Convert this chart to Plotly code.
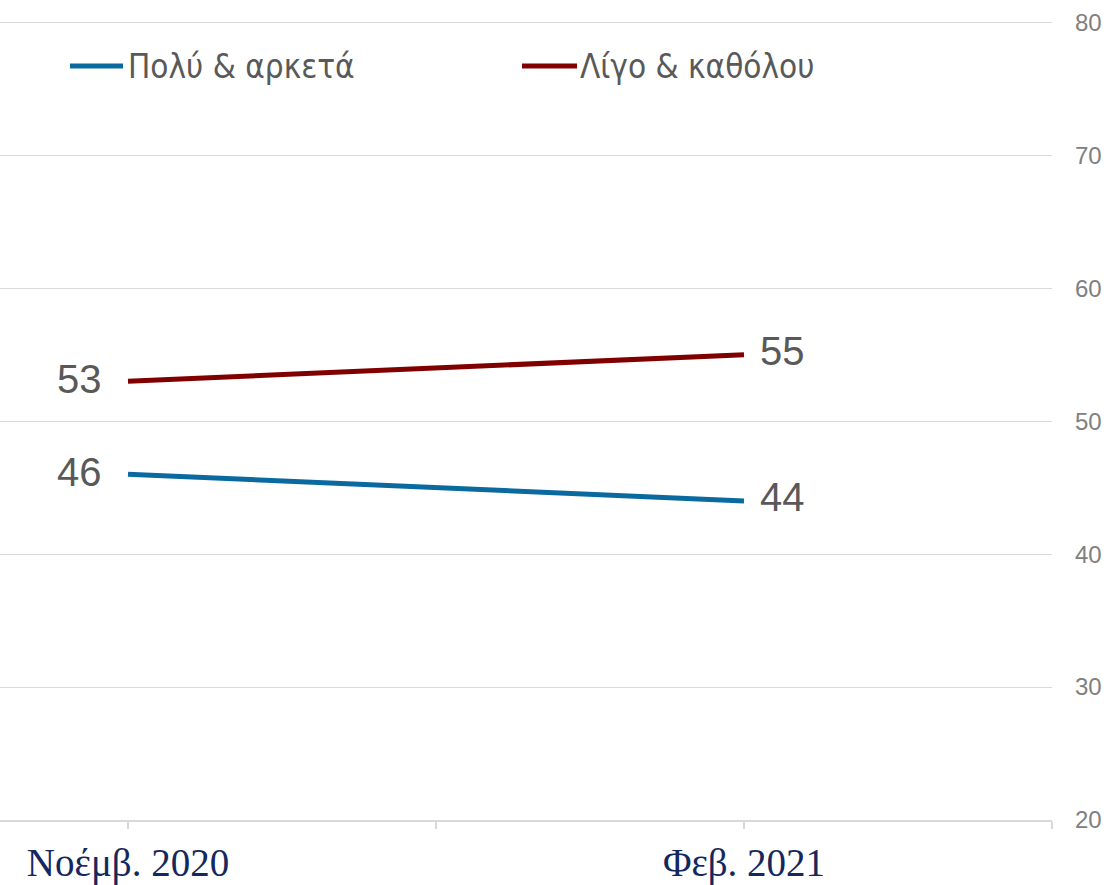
import plotly.graph_objects as go

categories = ["Νοέμβ. 2020", "Φεβ. 2021"]
series_names = ["Πολύ & αρκετά", "Λίγο & καθόλου"]
polu_arketa = [46, 44]
ligo_katholou = [53, 55]
colors = ["#0a6aa0", "#800000"]
y_ticks = [20, 30, 40, 50, 60, 70, 80]

# categories placed on a 4-slot axis (every other slot labelled)
x_pos = [0, 2]
tickvals = [0, 1, 2, 3]
ticktext = [categories[0], "", categories[1], ""]

fig = go.Figure()
for name, vals, col in [(series_names[0], polu_arketa, colors[0]),
                        (series_names[1], ligo_katholou, colors[1])]:
    fig.add_trace(go.Scatter(
        x=x_pos, y=vals, mode="lines", name=name,
        line=dict(color=col, width=5),
        showlegend=False, cliponaxis=False,
    ))
    # value labels: first point on the left, last point on the right
    fig.add_annotation(x=x_pos[0], y=vals[0], text=str(vals[0]), showarrow=False,
                       xanchor="right", yanchor="middle", xshift=-24, yshift=2,
                       font=dict(family="Liberation Sans, Arial, sans-serif", size=40, color="#595959"))
    fig.add_annotation(x=x_pos[1], y=vals[1], text=str(vals[1]), showarrow=False,
                       xanchor="left", yanchor="middle", xshift=14, yshift=4,
                       font=dict(family="Liberation Sans, Arial, sans-serif", size=40, color="#595959"))

# manual legend (paper coordinates)
W, H = 1112, 885
ml, mr, mt, mb = 0, 60, 21, 65
pw, ph = W - ml - mr, H - mt - mb

def px(x):
    return (x - ml) / pw

def py(y):
    return 1 - (y - mt) / ph

legend_items = [(70, 123, 126), (522, 577, 578)]
for (x0, x1, tx), name, col in zip(legend_items, series_names, colors):
    fig.add_shape(type="line", xref="paper", yref="paper",
                  x0=px(x0), x1=px(x1), y0=py(66), y1=py(66),
                  line=dict(color=col, width=5))
    fig.add_annotation(xref="paper", yref="paper", x=px(tx), y=py(67),
                       text=name, showarrow=False, xanchor="left", yanchor="middle",
                       font=dict(family="DejaVu Sans Condensed, Liberation Sans, sans-serif",
                                 size=33, color="#595959"))

fig.update_layout(
    width=W, height=H,
    margin=dict(l=ml, r=mr, t=mt, b=mb, autoexpand=False),
    paper_bgcolor="white", plot_bgcolor="white",
    showlegend=False,
)
fig.update_xaxes(
    range=[-128 / 308, 3], tickvals=tickvals, ticktext=ticktext,
    ticks="outside", ticklen=7, tickcolor="#d9d9d9", tickwidth=2,
    showgrid=False, showline=True, linecolor="#d9d9d9", linewidth=2,
    tickfont=dict(family="Liberation Serif, Georgia, serif", size=39, color="#14285e"),
    zeroline=False, automargin=False,
)
fig.update_yaxes(
    range=[20, 80.1], tickvals=y_ticks, side="right",
    showgrid=True, gridcolor="#d9d9d9", gridwidth=1,
    zeroline=False, ticks="", ticklabelstandoff=22, automargin=False,
    tickfont=dict(family="Liberation Sans, Arial, sans-serif", size=24, color="#808080"),
)

fig.write_html("out.html", config={"displayModeBar": False},
               post_script="document.body.style.margin='0';")
